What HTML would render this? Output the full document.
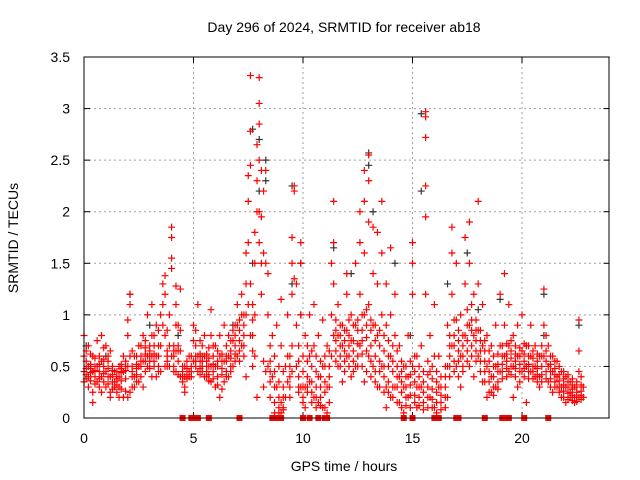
<!DOCTYPE html>
<html><head><meta charset="utf-8"><style>
body{margin:0;background:#fff}
svg{display:block;font-family:"Liberation Sans",sans-serif}
</style></head><body>
<svg id="chart" width="640" height="480" viewBox="0 0 640 480">
<rect width="640" height="480" fill="#fff"/>
<text x="344" y="32" font-size="14" text-anchor="middle">Day 296 of 2024, SRMTID for receiver ab18</text>
<g id="grid"></g>
<g id="axes"></g>
<g id="zeros"></g>
<g id="black"></g>
<g id="red"></g>
<rect x="84" y="57" width="525" height="361" fill="none" stroke="#000" stroke-width="1"/>
<text x="344" y="471" font-size="14" text-anchor="middle">GPS time / hours</text>
<text transform="translate(18,238) rotate(-90)" font-size="14" text-anchor="middle">SRMTID / TECUs</text>
</svg>
<script>
const xTicks=[0,5,10,15,20];
const yTicks=[0,0.5,1,1.5,2,2.5,3,3.5];
const times=[0,0.2,0.4,0.6,0.8,1.0,1.2,1.4,1.6,1.8,2.0,2.1,2.3,2.5,2.7,2.9,3.1,3.3,3.5,3.6,3.7,3.9,4.0,4.2,4.4,4.6,4.8,5.0,5.2,5.5,5.8,6.0,6.2,6.4,6.6,6.8,7.0,7.2,7.4,7.5,7.6,7.8,7.9,8.0,8.1,8.2,8.3,8.4,8.6,8.8,9.0,9.2,9.3,9.5,9.6,9.7,9.9,10.1,10.3,10.5,10.7,10.9,11.1,11.3,11.4,11.6,11.8,12.0,12.2,12.4,12.6,12.8,13.0,13.2,13.4,13.6,13.8,14.0,14.2,14.4,14.6,14.8,15.0,15.2,15.4,15.6,15.8,16.0,16.2,16.6,16.8,17.0,17.2,17.4,17.6,17.8,18.0,18.2,18.4,18.6,18.8,19.0,19.2,19.4,19.6,19.8,20.0,20.2,20.4,20.6,20.8,21.0,21.2,21.4,21.6,21.8,22.0,22.2,22.4,22.6,22.8];
const values=[[0.8,0.45,0.35,0.6],[0.7,0.5,0.4,0.3],[0.6,0.45,0.25,0.15],[0.75,0.5,0.35],[0.8,0.55,0.4,0.25],[0.7,0.45,0.3],[0.65,0.4,0.25,0.2],[0.45,0.35,0.3],[0.5,0.4,0.3,0.2],[0.6,0.45,0.2],[0.95,0.8,0.5,0.2],[1.2,1.1,0.6,0.25],[0.6,0.4,0.3],[0.7,0.5,0.35],[0.8,0.55,0.3],[1.0,0.6,0.5],[1.1,0.8,0.6,0.4],[0.9,0.6,0.4],[1.0,0.7,0.45],[1.3,1.1,0.9],[1.38,1.2,0.8,0.5],[1.0,0.7,0.5],[1.85,1.75,1.55,1.45,0.6],[1.28,1.1,0.9,0.65,0.45],[1.25,0.85,0.65,0.4],[0.5,0.4,0.3,0.25],[0.6,0.45,0.4],[0.9,0.75,0.55],[1.1,0.6,0.45],[0.8,0.6,0.4],[1.05,0.8,0.5,0.35],[0.7,0.5,0.3],[0.8,0.6,0.2],[0.9,0.55,0.35],[0.8,0.6,0.4],[0.85,0.75,0.5],[1.1,0.9,0.6],[1.2,1.0,0.7],[1.6,1.3,1.0,0.4],[2.35,2.1,1.7,1.1],[3.32,2.78,2.45,1.3,0.8],[1.8,1.5,1.0,0.6],[2.65,2.3,2.0,0.2],[3.3,3.05,2.85,2.5,2.0,1.7],[2.4,1.95,1.5,1.2],[2.2,1.6,0.55,0.3],[2.4,1.5,0.45],[1.4,1.0,0.5],[0.8,0.4],[0.9,0.3],[1.15,0.7,0.15,0.05],[0.5,0.2],[1.0,0.6,0.35],[1.75,1.5,1.2,0.7,0.45],[2.25,2.2,1.35],[1.3,0.9,0.5],[1.5,1.7,1.0,0.3],[0.8,0.3,0.1],[1.0,0.6,0.35],[1.1,0.7,0.2],[0.8,0.4,0.15],[0.95,0.5,0.1],[0.7,0.3,0.05],[1.5,1.0,0.6],[2.1,1.7,1.3,0.8],[1.1,0.8,0.5],[0.9,0.7,0.35],[1.4,1.2,0.85,0.6],[1.0,0.75,0.4],[1.5,0.9,0.5],[2.0,1.7,1.2,0.7],[2.4,2.1,1.6,1.0,0.35],[2.55,2.3,1.9,1.1,0.6],[1.85,1.4,0.9,0.5],[1.8,1.3,0.8,0.3],[2.1,1.6,1.0,0.5],[1.3,0.9,0.3,0.1],[1.65,1.0,0.6,0.2],[1.2,0.8,0.3],[0.7,0.4,0.15],[0.5,0.3,0.05],[0.8,0.4,0.2],[1.7,1.5,1.2,0.5],[0.6,0.3,0.1],[0.7,0.3],[2.97,2.92,2.72,2.25,1.95,1.2],[0.8,0.45,0.2],[1.1,0.6,0.1],[0.6,0.3],[0.9,0.5,0.2],[1.85,1.6,1.2,0.7],[1.5,0.95,0.5],[1.0,0.6,0.3],[1.75,1.3,0.8],[1.9,1.5,0.9,0.5],[1.2,0.8,0.4],[2.1,1.3,0.85,0.6],[1.1,0.7,0.35],[0.8,0.5,0.2],[0.7,0.4,0.25],[0.9,0.5,0.3],[1.2,0.7,0.45],[1.4,0.9,0.6],[1.1,0.7,0.45],[0.8,0.5,0.2],[0.9,0.6,0.3],[1.0,0.65,0.45],[0.7,0.5,0.15],[0.9,0.6,0.45],[0.7,0.5,0.4],[0.6,0.4,0.3],[1.25,0.9,0.6],[0.7,0.5,0.35],[0.6,0.45,0.25],[0.55,0.4,0.3],[0.45,0.3,0.2],[0.4,0.3,0.15],[0.35,0.25,0.2],[0.3,0.2,0.15],[0.95,0.65,0.45,0.2],[0.3,0.2]];
const denseTimes=[0.1,0.3,0.5,0.7,0.9,1.1,1.3,1.5,1.7,1.9,2.2,2.4,2.6,2.8,3.0,3.2,3.4,3.8,4.1,4.3,4.5,4.7,4.9,5.1,5.3,5.4,5.6,5.7,5.9,6.1,6.3,6.5,6.7,6.9,7.1,7.3,7.7,8.5,8.7,8.9,9.1,9.4,9.8,10.0,10.2,10.4,10.6,10.8,11.0,11.2,11.5,11.7,11.9,12.1,12.3,12.5,12.7,12.9,13.1,13.3,13.5,13.7,13.9,14.1,14.3,14.5,14.7,14.9,15.1,15.3,15.5,15.7,15.9,16.1,16.3,16.5,16.7,16.9,17.1,17.3,17.5,17.7,17.9,18.1,18.3,18.5,18.7,18.9,19.1,19.3,19.5,19.7,19.9,20.1,20.3,20.5,20.7,20.9,21.1,21.3,21.5,21.7,21.9,22.1,22.3,22.5,22.7];
const denseValues=[[0.55,0.42,0.38,0.48,0.65],[0.62,0.48,0.36,0.44,0.52],[0.5,0.4,0.33,0.58,0.46],[0.6,0.45,0.38,0.3,0.52],[0.68,0.5,0.43,0.35,0.57],[0.6,0.48,0.4,0.33,0.55],[0.5,0.42,0.35,0.28,0.46],[0.45,0.38,0.32,0.25,0.4],[0.52,0.44,0.36,0.28,0.48],[0.55,0.46,0.38,0.26,0.5],[0.65,0.5,0.4,0.3,0.45],[0.6,0.52,0.42,0.35,0.48],[0.7,0.6,0.5,0.4,0.55],[0.75,0.62,0.55,0.45,0.68],[0.7,0.6,0.55,0.48,0.65],[0.8,0.62,0.55,0.5,0.7],[0.85,0.7,0.6,0.5,0.45],[0.85,0.65,0.55,0.5,0.6],[0.7,0.65,0.6,0.5,0.45],[0.9,0.7,0.65,0.55,0.42],[0.5,0.45,0.4,0.35],[0.55,0.48,0.42,0.38],[0.6,0.5,0.45,0.4],[0.85,0.7,0.6,0.5,0.55],[0.75,0.62,0.55,0.48,0.42],[0.7,0.6,0.55,0.5,0.45],[0.62,0.55,0.5,0.45,0.4],[0.68,0.58,0.5,0.42,0.36],[0.7,0.6,0.52,0.45,0.38],[0.65,0.55,0.5,0.4,0.32],[0.62,0.55,0.48,0.42,0.28],[0.7,0.6,0.55,0.45,0.4],[0.75,0.65,0.58,0.5,0.45],[0.9,0.8,0.7,0.62,0.55],[0.95,0.85,0.75,0.65,0.55],[1.0,0.9,0.8,0.7,0.6],[1.1,0.95,0.8,0.65,0.5],[0.7,0.55,0.45,0.35,0.2],[0.6,0.45,0.3,0.15,0.05],[0.5,0.35,0.2,0.1,0.05],[0.45,0.3,0.2,0.1,0.08],[0.6,0.5,0.4,0.3,0.2],[0.7,0.55,0.4,0.3,0.25],[0.6,0.45,0.3,0.2,0.15],[0.7,0.55,0.4,0.3,0.25],[0.65,0.5,0.35,0.25,0.15],[0.6,0.45,0.3,0.2,0.1],[0.55,0.4,0.3,0.2,0.12],[0.6,0.5,0.35,0.25,0.1],[0.65,0.5,0.4,0.3,0.15],[0.95,0.85,0.75,0.65,0.55],[0.9,0.8,0.7,0.6,0.5],[0.85,0.75,0.65,0.55,0.45],[0.95,0.8,0.7,0.6,0.5],[0.9,0.75,0.65,0.55,0.45],[0.95,0.85,0.72,0.6,0.5],[1.0,0.85,0.75,0.62,0.5],[1.05,0.9,0.78,0.65,0.45],[0.95,0.85,0.7,0.55,0.4],[0.9,0.75,0.6,0.45,0.35],[0.85,0.7,0.55,0.45,0.3],[0.8,0.65,0.5,0.4,0.25],[0.75,0.6,0.5,0.35,0.25],[0.7,0.55,0.45,0.3,0.2],[0.65,0.5,0.4,0.3,0.15],[0.55,0.45,0.35,0.25,0.1],[0.5,0.4,0.3,0.2,0.12],[0.55,0.42,0.32,0.22,0.1],[0.6,0.45,0.35,0.22,0.15],[0.5,0.4,0.3,0.2,0.12],[0.45,0.35,0.25,0.15,0.08],[0.55,0.42,0.3,0.2,0.1],[0.5,0.38,0.28,0.18,0.1],[0.45,0.35,0.25,0.15,0.05],[0.4,0.3,0.22,0.15,0.08],[0.5,0.4,0.3,0.2,0.1],[0.8,0.7,0.6,0.5,0.4],[0.95,0.8,0.7,0.55,0.45],[0.85,0.75,0.65,0.55,0.4],[0.8,0.7,0.6,0.5,0.45],[1.05,0.9,0.75,0.65,0.55],[1.1,0.95,0.85,0.7,0.6],[0.95,0.85,0.75,0.65,0.55],[0.85,0.75,0.65,0.55,0.45],[0.75,0.65,0.55,0.45,0.35],[0.65,0.55,0.45,0.35,0.25],[0.6,0.5,0.4,0.3,0.22],[0.62,0.52,0.45,0.35,0.28],[0.7,0.6,0.52,0.45,0.38],[0.72,0.62,0.55,0.48,0.4],[0.75,0.65,0.58,0.5,0.42],[0.7,0.62,0.55,0.48,0.4],[0.68,0.6,0.52,0.45,0.35],[0.72,0.62,0.55,0.48,0.4],[0.7,0.6,0.52,0.45,0.38],[0.65,0.58,0.5,0.45,0.38],[0.62,0.55,0.48,0.42,0.35],[0.7,0.6,0.5,0.42,0.35],[0.8,0.65,0.55,0.45,0.38],[0.6,0.52,0.45,0.38,0.3],[0.55,0.48,0.42,0.35,0.3],[0.5,0.42,0.36,0.3,0.25],[0.45,0.38,0.32,0.26,0.2],[0.42,0.35,0.3,0.24,0.18],[0.38,0.32,0.28,0.22,0.17],[0.35,0.3,0.25,0.2,0.16],[0.4,0.32,0.26,0.22,0.18]];
const blackTimes=[0.1,1.0,2.1,3.0,4.3,5.3,6.8,7.7,8.0,8.3,9.5,9.9,11.4,12.2,13.0,13.2,14.2,14.9,15.4,16.6,17.5,18.0,19.0,20.2,21.0,22.6];
const blackValues=[[0.7],[0.6],[1.2],[0.9],[0.8],[0.6],[0.9],[2.8,1.5],[2.7,2.2],[2.5,2.3],[2.25,1.3],[1.5,1.0],[1.65],[1.4],[2.57,2.45],[2.0],[1.5],[0.8],[2.95,2.2],[1.3],[1.6],[1.05],[1.15],[0.7],[1.2,0.8],[0.9]];
const zeroTimes=[4.5,4.9,5.0,5.1,5.2,5.7,7.1,8.6,8.7,8.8,9.0,10.0,10.3,10.7,11.0,11.1,14.6,15.0,16.0,16.2,17.0,17.1,18.3,19.1,19.3,19.4,20.1,21.2];
const X0=84,X1=609.6,Y0=418,Y1=57;
const xs=t=>X0+(X1-X0)*t/24;
const ys=v=>Y0-(Y0-Y1)*v/3.5;
const NS='http://www.w3.org/2000/svg';
function mk(tag,attrs,parent){const e=document.createElementNS(NS,tag);for(const k in attrs)e.setAttribute(k,attrs[k]);parent.appendChild(e);return e;}
const grid=document.getElementById('grid'),axes=document.getElementById('axes');
xTicks.forEach(t=>{const x=xs(t);
 const g=mk('line',{x1:x,x2:x,y1:Y1,y2:Y0,stroke:'#a0a0a0','stroke-dasharray':'2,3'},grid);
 
 
 mk('line',{x1:x,x2:x,y1:Y0,y2:Y0-6,stroke:'#000'},axes);
 mk('line',{x1:x,x2:x,y1:Y1,y2:Y1+6,stroke:'#000'},axes);
 const l=mk('text',{x:x,y:443,'font-size':14,'text-anchor':'middle'},axes);l.textContent=t;
 
 
});
yTicks.forEach(v=>{const y=ys(v);
 const g=mk('line',{x1:X0,x2:X1,y1:y,y2:y,stroke:'#a0a0a0','stroke-dasharray':'2,3'},grid);
 
 
 mk('line',{x1:X0,x2:X0+6,y1:y,y2:y,stroke:'#000'},axes);
 mk('line',{x1:X1-6,x2:X1,y1:y,y2:y,stroke:'#000'},axes);
 const l=mk('text',{x:70,y:y+5,'font-size':14,'text-anchor':'end'},axes);l.textContent=v;
 
 
});
function plus(g,t,v,c){const x=xs(t),y=ys(v);
 const p=mk('path',{d:`M${x-3.5},${y}H${x+3.5}M${x},${y-3.5}V${y+3.5}`,stroke:c,'stroke-width':1.2,fill:'none'},g);
 
 
}
const bg=document.getElementById('black');
blackTimes.forEach((t,i)=>blackValues[i].forEach(v=>plus(bg,t,v,'#333')));
const rg=document.getElementById('red');
times.forEach((t,i)=>values[i].forEach(v=>plus(rg,t,v,'#ff0000')));
denseTimes.forEach((t,i)=>denseValues[i].forEach(v=>plus(rg,t,v,'#ff0000')));
const zg=document.getElementById('zeros');
zeroTimes.forEach(t=>{const r=mk('rect',{x:xs(t)-3,y:Y0-3,width:6,height:6,fill:'#ff0000'},zg);
 
 
});
</script>
</body></html>
